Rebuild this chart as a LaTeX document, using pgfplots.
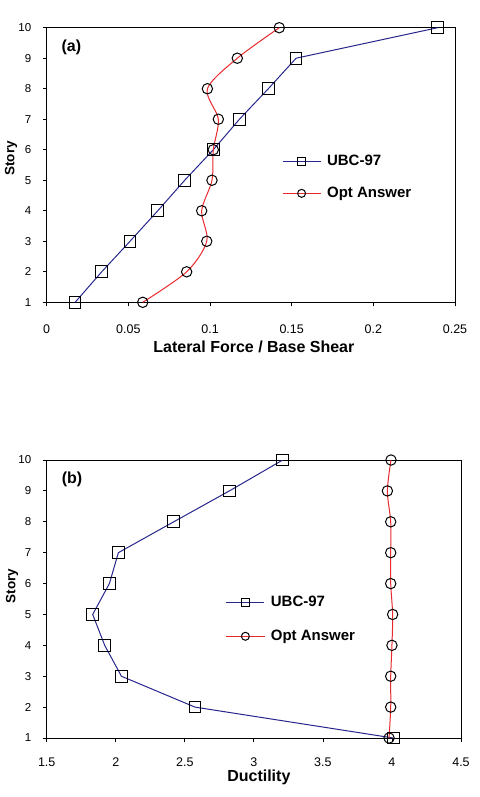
\documentclass[border=0pt]{standalone}
\usepackage{pgfplots}
\pgfplotsset{compat=1.18}
\usepackage{fontspec}
\setmainfont{Liberation Sans}
\definecolor{ubc}{RGB}{38,38,140}
\definecolor{opt}{RGB}{232,40,45}
\pgfplotsset{
  common/.style={
    scale only axis,
    anchor=south west,
    /pgf/number format/assume math mode=true,
    axis line style={black, line width=1pt},
    tick style={black, line width=0.8pt},
    tick align=outside,
    tick pos=left,
    major tick length=4pt,
    ymin=1, ymax=10, ytick={1,...,10},
    yticklabel style={font=\fontsize{11.5}{13}\selectfont, xshift=-8pt},
    xticklabel style={font=\fontsize{12.5}{14}\selectfont},
    xlabel style={font=\bfseries\fontsize{16}{18}\selectfont, anchor=center},
    ylabel style={font=\bfseries\fontsize{13.5}{15}\selectfont, anchor=center, rotate=0},
    ylabel={Story},
    legend cell align=left,
    legend image code/.code={\draw[mark repeat=2,mark phase=2,#1,mark size=4pt] plot coordinates {(0pt,0pt) (19pt,0pt) (38pt,0pt)}; \path (42pt,0pt);},
    legend style={draw=none, fill=none, font=\bfseries\fontsize{15}{17}\selectfont, row sep=16pt, inner sep=0pt, anchor=west},
  },
  ubcs/.style={color=ubc, line width=1pt, mark=square, mark size=5.8pt, mark options={fill=white, draw=black, line width=1pt}},
  opts/.style={color=opt, line width=1pt, mark=o, mark size=5.2pt, mark options={fill=white, draw=black, line width=1pt}},
}
\begin{document}
\begin{tikzpicture}
\useasboundingbox (0pt,0pt) rectangle (479pt,-797pt);
\begin{axis}[common,
  at={(46.7pt,-302.3pt)}, width=408.3pt, height=274.6pt,
  xmin=0, xmax=0.25, xtick={0,0.05,...,0.25},
  xticklabel style={/pgf/number format/fixed, /pgf/number format/precision=2, yshift=-14.5pt},
  xlabel={Lateral Force / Base Shear},
  xlabel style={at={(axis description cs:0.5,0)}, yshift=-44.5pt, xshift=3pt},
  ylabel style={at={(axis description cs:-0.0874,0.524)}},
  legend style={at={(0.576,0.455)}},
]
\addplot[ubcs] coordinates {
(0.0174,1) (0.0337,2) (0.0510,3) (0.0680,4) (0.0845,5) (0.1020,6) (0.1180,7) (0.1357,8) (0.1527,9) (0.2394,10)};
\addlegendentry{UBC-97}
\addplot[opts, smooth] coordinates {
(0.0588,1) (0.0857,2) (0.0980,3) (0.0949,4) (0.1012,5) (0.1020,6) (0.1051,7) (0.0984,8) (0.1167,9) (0.1424,10)};
\addlegendentry{Opt Answer}
\node[font=\bfseries\fontsize{16}{18}\selectfont, anchor=center] at (rel axis cs:0.0605,0.928) {(a)};
\end{axis}
\begin{axis}[common,
  at={(46.7pt,-738pt)}, width=414.3pt, height=278pt,
  xmin=1.5, xmax=4.5, xtick={1.5,2,...,4.5},
  xticklabel style={yshift=-12.5pt},
  xlabel={Ductility},
  xlabel style={at={(axis description cs:0.5,0)}, yshift=-39.5pt, xshift=5pt},
  ylabel style={at={(axis description cs:-0.0838,0.547)}},
  legend style={at={(0.432,0.427)}, row sep=18pt},
]
\addplot[ubcs] coordinates {
(4.010,1) (2.574,2) (2.041,3) (1.920,4) (1.833,5) (1.954,6) (2.019,7) (2.420,8) (2.823,9) (3.209,10)};
\addlegendentry{UBC-97}
\addplot[opts, smooth] coordinates {
(3.979,1) (3.991,2) (3.991,3) (4.000,4) (4.005,5) (3.991,6) (3.991,7) (3.991,8) (3.967,9) (3.993,10)};
\addlegendentry{Opt Answer}
\node[font=\bfseries\fontsize{16}{18}\selectfont, anchor=center] at (rel axis cs:0.061,0.932) {(b)};
\end{axis}
\end{tikzpicture}
\end{document}
